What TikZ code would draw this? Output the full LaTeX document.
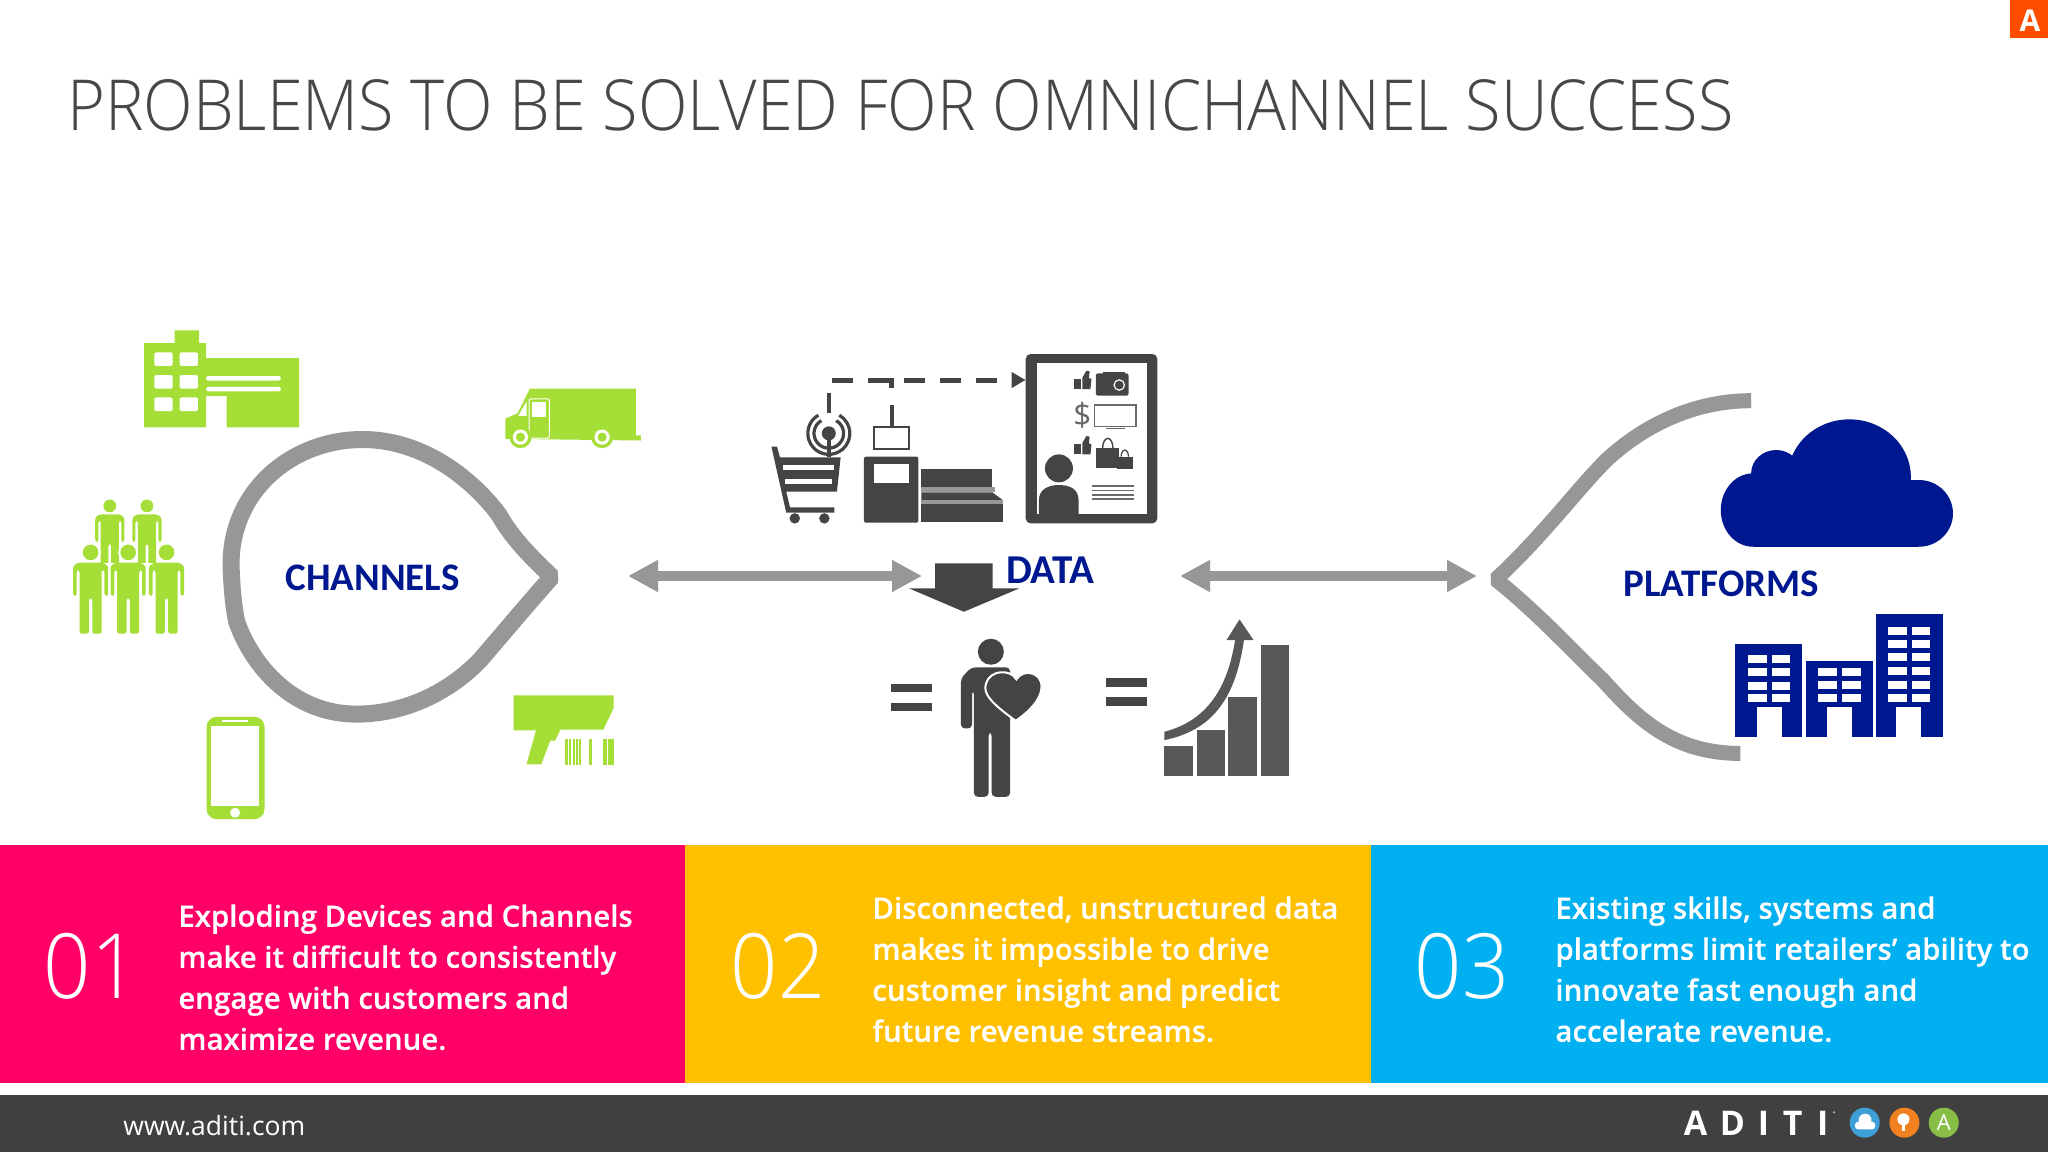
\documentclass[tikz,border=0pt]{standalone}
\usepackage{fontspec}
\setmainfont{Open Sans}
\newfontfamily\labelfont{Carlito}
\newfontfamily\titlefont[FakeStretch=0.92]{Open Sans Light}
\newfontfamily\barfont[FakeBold=0.25]{Open Sans Semibold}
\usetikzlibrary{positioning,arrows.meta}
\definecolor{lime}{HTML}{A5DE37}
\definecolor{navy}{HTML}{00188F}
\definecolor{ringgray}{HTML}{979699}
\definecolor{icondark}{HTML}{444446}
\definecolor{chartdark}{HTML}{58585A}
\definecolor{pinkbar}{HTML}{FF0066}
\definecolor{yellowbar}{HTML}{FFC000}
\definecolor{bluebar}{HTML}{00B0F0}
\definecolor{footdark}{HTML}{404040}
\definecolor{cornerred}{HTML}{FF4D00}
\definecolor{logoblue}{HTML}{3D9FD6}
\definecolor{logoorange}{HTML}{F08020}
\definecolor{logogreen}{HTML}{88BE45}
\tikzset{
    x=0.5pt,
    y=-0.5pt,
    zoomA/.style = {shift={(40,310)}, x=0.2041pt, y=-0.1695pt},
    zoomB/.style = {shift={(740,330)}, x=0.185pt, y=-0.1667pt},
    zoomC/.style = {shift={(1460,370)}, x=0.1786pt, y=-0.1667pt},
    zoomD/.style = {shift={(1600,1060)}, x=0.1667pt, y=-0.1667pt},
    ring/.style = {draw=ringgray, line width=8.5pt, line join=bevel},
    twoway/.style = {draw=ringgray, line width=5pt, {Triangle[length=15pt,width=15pt]}-{Triangle[length=15pt,width=15pt]}},
    heading/.style = {font=\labelfont\bfseries\fontsize{19.5}{22}\selectfont, text=navy, inner sep=0pt},
    number/.style = {font=\titlefont\fontsize{45}{48}\selectfont, text=white, inner sep=0pt},
    bartext/.style = {font=\barfont\fontsize{14.7}{20.5}\selectfont, text=white, inner sep=0pt, anchor=north west, align=left},
    figure/.pic = {
        \fill[lime, rounded corners=1.2pt] (-43,128) -- (-43,40) -- (-30,30) -- (30,30) -- (43,40) -- (43,128) -- (34,128) -- (34,52) -- (27,52) -- (27,240) -- (4,240) -- (4,135) -- (-4,135) -- (-4,240) -- (-27,240) -- (-27,52) -- (-34,52) -- (-34,128) -- cycle;
    },
}

\begin{document}
\begin{tikzpicture}
    \useasboundingbox (0,0) rectangle (2048,1152);
    \fill[white] (0,0) rectangle (2048,1152);

    % title and corner mark
    \node[font=\titlefont\fontsize{35.2}{40}\selectfont, text=black!72, anchor=base west, inner sep=0pt] (title) at (67,130) {PROBLEMS TO BE SOLVED FOR OMNICHANNEL SUCCESS};
    \fill[cornerred] (2010,0) rectangle (2048,38);
    \node[font=\bfseries\fontsize{15}{15}\selectfont, text=white, inner sep=0pt] (corner) at (2030,21) {A};

    % channels
    \begin{scope}[zoomA]
        \draw[ring] (1254,787) .. controls (1190,715) and (1150,660) .. (1125,605) .. controls (1060,500) and (940,382) .. (790,382) .. controls (620,382) and (468,530) .. (468,750) .. controls (470,830) and (475,880) .. (482,920) .. controls (520,1050) and (620,1192) .. (775,1192) .. controls (900,1192) and (1010,1120) .. (1080,1030) .. controls (1130,960) and (1200,860) .. (1254,787) -- cycle;
        \node[heading] (channels) at (815,790) {CHANNELS};
        % office
        \fill[lime] (255,98) -- (330,98) -- (330,60) -- (390,60) -- (390,98) -- (407,98) -- (407,142) -- (635,142) -- (635,346) -- (457,346) -- (457,254) -- (407,254) -- (407,346) -- (255,346) -- cycle;
        \foreach \xa in {280,342} \foreach \ya in {125,192,258}
            \fill[white, rounded corners=1pt] (\xa,\ya) rectangle ++(45,40);
        \fill[white, rounded corners=1pt] (407,195) rectangle (590,208);
        \fill[white, rounded corners=1pt] (407,227) rectangle (590,240);
        % truck
        \fill[lime] (1200,232) -- (1460,232) -- (1460,370) -- (1472,370) -- (1472,385) -- (1140,380) -- (1140,320) -- (1170,305) -- cycle;
        \fill[white] (1172,312) -- (1192,270) -- (1192,312) -- cycle;
        \draw[white, line width=0.5pt, rounded corners=1pt] (1198,262) rectangle (1248,378);
        \fill[white] (1205,272) rectangle (1240,315);
        \foreach \xa in {1177,1377} {
            \fill[lime] (\xa,375) circle[radius=5.5pt];
            \fill[white] (\xa,375) circle[radius=3.8pt];
            \fill[lime] (\xa,375) circle[radius=2.3pt];
        }
        % scanner
        \fill[lime] (1160,1137) -- (1405,1137) -- (1405,1175) -- (1380,1238) -- (1275,1238) -- (1262,1270) -- (1250,1270) -- (1228,1340) -- (1192,1340) -- (1215,1240) -- (1160,1240) -- cycle;
        \foreach \xa/\wa in {1287/6,1297/4,1305/5,1314/3,1321/4,1345/7,1378/10,1392/13}
            \fill[lime] (\xa,1265) rectangle ++(\wa,76);
        % phone
        \fill[lime, rounded corners=5pt] (408,1200) rectangle (550,1502);
        \fill[white] (420,1228) rectangle (537,1462);
        \fill[white] (447,1210) rectangle (510,1216);
        \fill[white] (478,1483) circle[radius=2.5pt];
        % people
        \begin{scope}
            \clip (100,540) rectangle (320,745);
            \fill[lime] (171,578) circle[radius=3.2pt];
            \fill[lime] (262,578) circle[radius=3.2pt];
            \pic[scale=0.83] at (171,578) {figure};
            \pic[scale=0.83] at (262,578) {figure};
        \end{scope}
        \foreach \xa in {124,216,310} {
            \fill[white] (\xa,715) circle[radius=5pt];
            \fill[lime] (\xa,715) circle[radius=3.9pt];
            \pic at (\xa,715) {figure};
        }
    \end{scope}

    % data
    \begin{scope}[zoomB]
        % cart
        \fill[icondark] (85,350) -- (100,350) -- (108,382) -- (272,382) -- (262,485) -- (125,485) -- (135,532) -- (255,532) -- (255,548) -- (125,548) -- cycle;
        \fill[white] (115,405) rectangle (255,420);
        \fill[white] (122,447) rectangle (248,462);
        \fill[icondark] (148,565) circle[radius=2.6pt];
        \fill[icondark] (228,565) circle[radius=2.6pt];
        \draw[icondark, line width=2.2pt] (240,188) -- (240,250);
        \draw[icondark, line width=2.2pt] (240,310) -- (240,380);
        \fill[icondark] (240,310) circle[radius=3.5pt];
        \draw[icondark, line width=1.6pt] (240,310) ++(120:7.4pt) arc[start angle=120, end angle=420, radius=7.4pt];
        \draw[icondark, line width=1.6pt] (240,310) ++(120:10.5pt) arc[start angle=120, end angle=420, radius=10.5pt];
        % kiosk and counter
        \fill[icondark, rounded corners=1pt] (335,380) rectangle (482,578);
        \fill[white] (362,402) rectangle (458,458);
        \draw[icondark, line width=1pt] (362,290) rectangle (458,358);
        \draw[icondark, line width=2.2pt] (410,225) -- (410,290);
        \fill[icondark] (490,418) rectangle (682,472);
        \fill[icondark!55] (490,472) rectangle (690,487);
        \fill[icondark] (490,487) -- (682,487) -- (710,510) -- (490,510) -- cycle;
        \fill[icondark!55] (490,510) rectangle (710,522);
        \fill[icondark] (490,522) rectangle (712,577);
        % profile panel
        \fill[icondark, rounded corners=2.5pt] (772,72) rectangle (1128,580);
        \fill[white] (802,100) rectangle (1100,552);
        \fill[icondark] (862,415) circle[radius=7pt];
        \fill[icondark] (808,553) -- (808,510) .. controls (808,480) and (830,465) .. (862,465) .. controls (895,465) and (915,480) .. (915,510) -- (915,553) -- cycle;
        \foreach \ya in {122,318} {
            \fill[icondark] (903,\ya+25) rectangle ++(18,30);
            \fill[icondark] (925,\ya+55) -- (925,\ya+22) -- (936,\ya) -- (945,\ya+2) -- (943,\ya+22) -- (950,\ya+25) -- (947,\ya+55) -- cycle;
        }
        \fill[icondark, rounded corners=1pt] (962,130) rectangle (1050,197);
        \fill[icondark] (980,125) rectangle (1040,135);
        \draw[white, line width=0.6pt] (1025,165) circle[radius=2.6pt];
        \node[font=\fontsize{16}{16}\selectfont, text=icondark!80, inner sep=0pt] (dollar) at (925,255) {\$};
        \draw[icondark!80, line width=0.7pt] (958,225) rectangle (1070,290);
        \draw[icondark!80, line width=0.7pt] (990,296) -- (1040,296);
        \fill[icondark] (962,355) rectangle (1025,415);
        \fill[icondark] (1020,380) rectangle (1062,418);
        \draw[icondark, line width=0.7pt] (980,355) arc[start angle=180, end angle=360, x radius=14, y radius=30];
        \draw[icondark, line width=0.6pt] (1030,380) arc[start angle=180, end angle=360, x radius=10, y radius=20];
        \foreach \ya in {468,481,494,507}
            \draw[icondark!80, line width=0.8pt] (950,\ya) -- (1065,\ya);
        % dashed link
        \coordinate (cartlink) at (248,150);
        \coordinate (panellink) at (772,150);
        \draw[icondark, line width=2.5pt, dash pattern=on 10.5pt off 7.5pt, -{Triangle[length=7pt,width=7.5pt]}] (cartlink) -- (panellink);
        \draw[icondark, line width=2.5pt] (400,150) -- (410,150) -- (410,175);
        % down arrow and label
        \fill[icondark] (527,700) -- (683,700) -- (683,775) -- (755,775) -- (605,845) -- (457,775) -- (527,775) -- cycle;
        \node[heading, font=\labelfont\bfseries\fontsize{20.5}{22}\selectfont, right=0pt of {(718,720)}] (data) {DATA};
        % customer
        \fill[icondark] (407,1063) rectangle (518,1087);
        \fill[icondark] (407,1118) rectangle (518,1142);
        \fill[icondark] (678,965) circle[radius=6.5pt];
        \fill[icondark, rounded corners=2pt] (597,1195) -- (597,1045) -- (625,1012) -- (730,1012) -- (730,1400) -- (680,1400) -- (680,1205) -- (672,1205) -- (672,1400) -- (632,1400) -- (632,1080) -- (627,1080) -- (627,1195) -- cycle;
        \filldraw[fill=icondark, draw=white, line width=1pt] (745,1172) .. controls (680,1120) and (655,1090) .. (665,1060) .. controls (675,1020) and (730,1015) .. (747,1048) .. controls (765,1015) and (815,1025) .. (815,1070) .. controls (815,1110) and (775,1150) .. (745,1172) -- cycle;
        \fill[icondark] (988,1043) rectangle (1100,1070);
        \fill[icondark] (988,1100) rectangle (1100,1127);
        % revenue chart
        \foreach \xa/\ya in {1147/1248,1234/1200,1320/1102,1407/945}
            \fill[chartdark] (\xa,\ya) rectangle ++(77,390-\ya+948);
        \fill[chartdark] (1147,1230) .. controls (1280,1200) and (1340,1100) .. (1362,930) -- (1388,930) -- (1350,868) -- (1315,930) -- (1338,930) .. controls (1320,1060) and (1270,1170) .. (1147,1205) -- cycle;
    \end{scope}

    % platforms
    \begin{scope}[zoomC]
        \draw[ring, line width=7.5pt] (815,92) .. controls (640,92) and (500,180) .. (410,270) .. controls (330,355) and (230,500) .. (100,628) .. controls (220,730) and (330,860) .. (400,930) .. controls (500,1050) and (600,1150) .. (785,1150);
        \node[heading] (platforms) at (732,642) {PLATFORMS};
        % cloud
        \fill[navy] (820,420) circle[x radius=90, y radius=110];
        \fill[navy] (885,310) circle[x radius=70, y radius=70];
        \fill[navy] (1090,320) circle[x radius=172, y radius=172];
        \fill[navy] (1285,430) circle[x radius=95, y radius=100];
        \fill[navy] (820,330) rectangle (1285,530);
        % towers
        \fill[navy] (771,822) rectangle (958,1100);
        \fill[navy] (968,874) rectangle (1155,1100);
        \fill[navy] (1165,732) rectangle (1352,1100);
        \fill[white] (830,1010) rectangle (900,1100);
        \fill[white] (1027,1010) rectangle (1097,1100);
        \fill[white] (1220,1010) rectangle (1290,1100);
        \foreach \ya in {855,895,935,973} {
            \fill[white] (805,\ya) rectangle ++(53,24);
            \fill[white] (872,\ya) rectangle ++(53,24);
        }
        \foreach \ya in {893,933,971} {
            \fill[white] (1002,\ya) rectangle ++(53,24);
            \fill[white] (1069,\ya) rectangle ++(53,24);
        }
        \foreach \ya in {770,810,850,890,932,972} {
            \fill[white] (1198,\ya) rectangle ++(52,24);
            \fill[white] (1265,\ya) rectangle ++(52,24);
        }
    \end{scope}

    % links between the three groups
    \coordinate (leftA) at (628,576);
    \coordinate (leftB) at (922,576);
    \coordinate (rightA) at (1180,576);
    \coordinate (rightB) at (1477,576);
    \draw[twoway] (leftA) -- (leftB);
    \draw[twoway] (rightA) -- (rightB);

    % three bars
    \fill[pinkbar] (0,845) rectangle (685,1083);
    \fill[yellowbar] (685,845) rectangle (1371,1083);
    \fill[bluebar] (1371,845) rectangle (2048,1083);
    \node[number] (one) at (91,966) {01};
    \node[number] (two) at (778,966) {02};
    \node[number] (three) at (1462,966) {03};
    \node[bartext] (pinktext) at (178,904) {Exploding Devices and Channels\\make it difficult to consistently\\engage with customers and\\maximize revenue.};
    \node[bartext] (yellowtext) at (872,896) {Disconnected, unstructured data\\makes it impossible to drive\\customer insight and predict\\future revenue streams.};
    \node[bartext] (bluetext) at (1555,896) {Existing skills, systems and\\platforms limit retailers’ ability to\\innovate fast enough and\\accelerate revenue.};

    % footer
    \fill[footdark] (0,1095) rectangle (2048,1152);
    \node[font=\fontsize{13.25}{14}\selectfont, text=white, anchor=base west, inner sep=0pt] (site) at (123,1135) {www.aditi.com};
    \begin{scope}[zoomD]
        \foreach \xa/\la in {287/A,397/D,490/I,578/T,668/I}
            \node[font=\bfseries\fontsize{17}{17}\selectfont, text=white, inner sep=0pt] (logo\la) at (\xa,190) {\la};
        \fill[white!70!black] (702,157) circle[radius=0.6pt];
        \fill[logoblue] (794,188) circle[radius=7.5pt];
        \fill[white, rounded corners=1.5pt] (765,185) rectangle (825,208);
        \fill[white] (795,180) circle[radius=3.2pt];
        \fill[logoorange] (913,188) circle[radius=7.5pt];
        \fill[white] (910,178) circle[radius=3pt];
        \fill[white] (905,190) rectangle (915,212);
        \fill[logogreen] (1031,188) circle[radius=7.5pt];
        \node[font=\fontsize{11}{11}\selectfont, text=white, inner sep=0pt] (logoroundA) at (1031,188) {A};
    \end{scope}
\end{tikzpicture}
\end{document}
